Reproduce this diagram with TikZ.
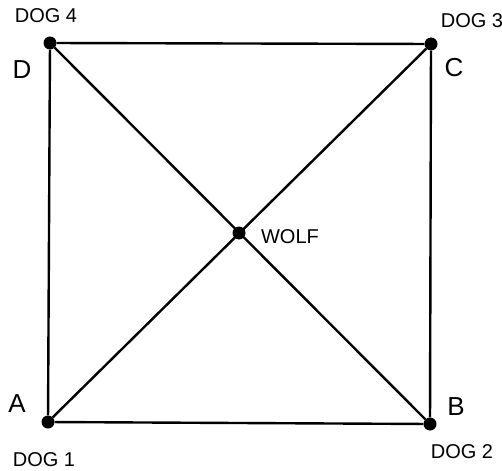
\documentclass[tikz,border=0pt]{standalone}
\usepackage{fontspec}
\setmainfont{Liberation Sans}
\usetikzlibrary{positioning}
\tikzset{
  dogpt/.style={circle,fill=black,inner sep=0pt,minimum size=13pt},
  dogname/.style={font=\fontsize{20}{20}\selectfont},
  cornername/.style={font=\fontsize{26}{26}\selectfont},
  chase/.style={line width=2.4pt}
}
\begin{document}
\begin{tikzpicture}[x=1pt,y=-1pt]
  \useasboundingbox (0,0) rectangle (502,470);
  % the four dogs and the wolf
  \node[dogpt] (d1) at (48,422) {};
  \node[dogpt] (d2) at (430,424) {};
  \node[dogpt] (d3) at (431,44) {};
  \node[dogpt] (d4) at (50,43) {};
  \node[dogpt] (wolf) at (239,233) {};
  % square and diagonals
  \draw[chase] (d1) -- (d2) -- (d3) -- (d4) -- (d1);
  \draw[chase] (d1) -- (d3);
  \draw[chase] (d4) -- (d2);
  % labels
  \node[dogname] (l4) at (46,16) {DOG 4};
  \node[dogname] (l3) at (472,21) {DOG 3};
  \node[dogname] (l1) at (44,460) {DOG 1};
  \node[dogname] (l2) at (462,452) {DOG 2};
  \node[dogname] (lw) at (290,237) {WOLF};
  \node[cornername] (cd) at (22,70) {D};
  \node[cornername] (cc) at (454,68) {C};
  \node[cornername] (ca) at (17,404) {A};
  \node[cornername] (cb) at (456,407) {B};
\end{tikzpicture}
\end{document}
